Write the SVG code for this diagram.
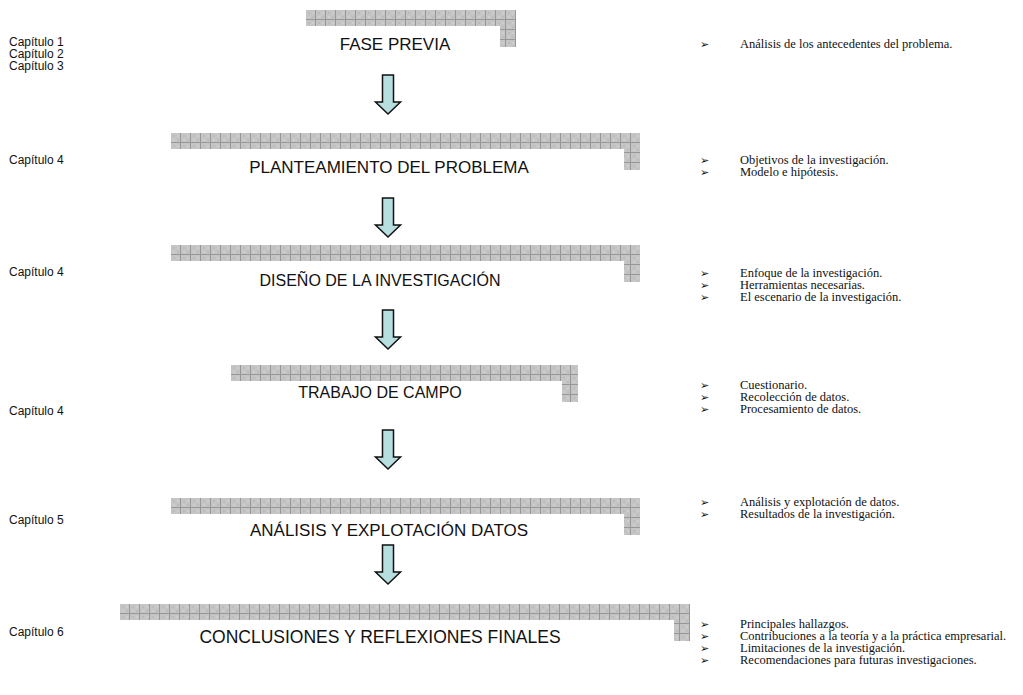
<svg xmlns="http://www.w3.org/2000/svg" width="1023" height="695" viewBox="0 0 1023 695">
  <defs>
    <!-- checkered grey grid fill for the stage bands -->
    <pattern id="grid" width="10" height="10" patternUnits="userSpaceOnUse">
      <rect width="10" height="10" fill="#c5c5c5"/>
      <rect x="2" y="2" width="2" height="2" fill="#bcbcbc"/>
      <rect x="6" y="6" width="2" height="2" fill="#bcbcbc"/>
      <rect x="6" y="2" width="2" height="2" fill="#cdcdcd"/>
      <rect x="2" y="6" width="2" height="2" fill="#cdcdcd"/>
      <path d="M9.5,0 V10 M0,9.5 H10" stroke="#979797" stroke-width="1" fill="none"/>
    </pattern>
    <!-- down block arrow, top at 0, centred on x=0 -->
    <path id="down" d="M-5.5,0 H5.5 V27 H12.5 L0,39 L-12.5,27 H-5.5 Z"/>
  </defs>
  <style>
    .band { fill: url(#grid); }
    .stage { font-family: "Liberation Sans", Arial, sans-serif; font-size: 17px; fill: #111; text-anchor: middle; }
    .chap { font-family: "Liberation Sans", Arial, sans-serif; font-size: 12px; fill: #111; }
    .item { font-family: "Liberation Serif", "Times New Roman", serif; font-size: 12.5px; fill: #111; }
    .bul { font-family: "DejaVu Sans", sans-serif; font-size: 11px; fill: #111; }
    .arrow { fill: #b7dfe0; stroke: #111; stroke-width: 1.5; stroke-linejoin: miter; }
  </style>

  <!-- chapter labels on the left -->
  <g id="chapters">
    <text class="chap" x="9" y="46">Capítulo 1</text>
    <text class="chap" x="9" y="58">Capítulo 2</text>
    <text class="chap" x="9" y="70">Capítulo 3</text>
    <text class="chap" x="9" y="164">Capítulo 4</text>
    <text class="chap" x="9" y="276">Capítulo 4</text>
    <text class="chap" x="9" y="415">Capítulo 4</text>
    <text class="chap" x="9" y="524">Capítulo 5</text>
    <text class="chap" x="9" y="636">Capítulo 6</text>
  </g>

  <!-- stage nodes -->
  <g id="fase-previa">
    <g transform="translate(306,10)"><path class="band" d="M0,0 H210 V37 H194 V16 H0 Z"/></g>
    <text class="stage" x="395" y="50">FASE PREVIA</text>
  </g>
  <g id="planteamiento">
    <g transform="translate(171,133)"><path class="band" d="M0,0 H469 V37 H453 V16 H0 Z"/></g>
    <text class="stage" x="389" y="173">PLANTEAMIENTO DEL PROBLEMA</text>
  </g>
  <g id="diseno">
    <g transform="translate(171,245)"><path class="band" d="M0,0 H469 V37 H453 V16 H0 Z"/></g>
    <text class="stage" x="380" y="286" style="font-size:16px">DISEÑO DE LA INVESTIGACIÓN</text>
  </g>
  <g id="trabajo-campo">
    <g transform="translate(231,365)"><path class="band" d="M0,0 H347 V37 H331 V16 H0 Z"/></g>
    <text class="stage" x="380" y="398" style="font-size:16px">TRABAJO DE CAMPO</text>
  </g>
  <g id="analisis">
    <g transform="translate(171,498)"><path class="band" d="M0,0 H469 V37 H453 V16 H0 Z"/></g>
    <text class="stage" x="389" y="536">ANÁLISIS Y EXPLOTACIÓN DATOS</text>
  </g>
  <g id="conclusiones">
    <g transform="translate(120,604)"><path class="band" d="M0,0 H570 V37 H554 V16 H0 Z"/></g>
    <text class="stage" x="380" y="643" style="font-size:17.5px">CONCLUSIONES Y REFLEXIONES FINALES</text>
  </g>

  <!-- connectors between stages -->
  <g id="connectors">
    <use href="#down" class="arrow" transform="translate(388,75)"/>
    <use href="#down" class="arrow" transform="translate(388,198)"/>
    <use href="#down" class="arrow" transform="translate(388,310)"/>
    <use href="#down" class="arrow" transform="translate(388,430)"/>
    <use href="#down" class="arrow" transform="translate(388,545)"/>
  </g>

  <!-- bullet lists on the right -->
  <g id="items">
    <text class="bul" x="700" y="48">➢</text>
    <text class="item" x="740" y="48">Análisis de los antecedentes del problema.</text>

    <text class="bul" x="700" y="164">➢</text>
    <text class="item" x="740" y="164">Objetivos de la investigación.</text>
    <text class="bul" x="700" y="176">➢</text>
    <text class="item" x="740" y="176">Modelo e hipótesis.</text>

    <text class="bul" x="700" y="277">➢</text>
    <text class="item" x="740" y="277">Enfoque de la investigación.</text>
    <text class="bul" x="700" y="289">➢</text>
    <text class="item" x="740" y="289">Herramientas necesarias.</text>
    <text class="bul" x="700" y="301">➢</text>
    <text class="item" x="740" y="301">El escenario de la investigación.</text>

    <text class="bul" x="700" y="389">➢</text>
    <text class="item" x="740" y="389">Cuestionario.</text>
    <text class="bul" x="700" y="401">➢</text>
    <text class="item" x="740" y="401">Recolección de datos.</text>
    <text class="bul" x="700" y="413">➢</text>
    <text class="item" x="740" y="413">Procesamiento de datos.</text>

    <text class="bul" x="700" y="506">➢</text>
    <text class="item" x="740" y="506">Análisis y explotación de datos.</text>
    <text class="bul" x="700" y="518">➢</text>
    <text class="item" x="740" y="518">Resultados de la investigación.</text>

    <text class="bul" x="700" y="628">➢</text>
    <text class="item" x="740" y="628">Principales hallazgos.</text>
    <text class="bul" x="700" y="640">➢</text>
    <text class="item" x="740" y="640">Contribuciones a la teoría y a la práctica empresarial.</text>
    <text class="bul" x="700" y="652">➢</text>
    <text class="item" x="740" y="652">Limitaciones de la investigación.</text>
    <text class="bul" x="700" y="664">➢</text>
    <text class="item" x="740" y="664">Recomendaciones para futuras investigaciones.</text>
  </g>
</svg>
